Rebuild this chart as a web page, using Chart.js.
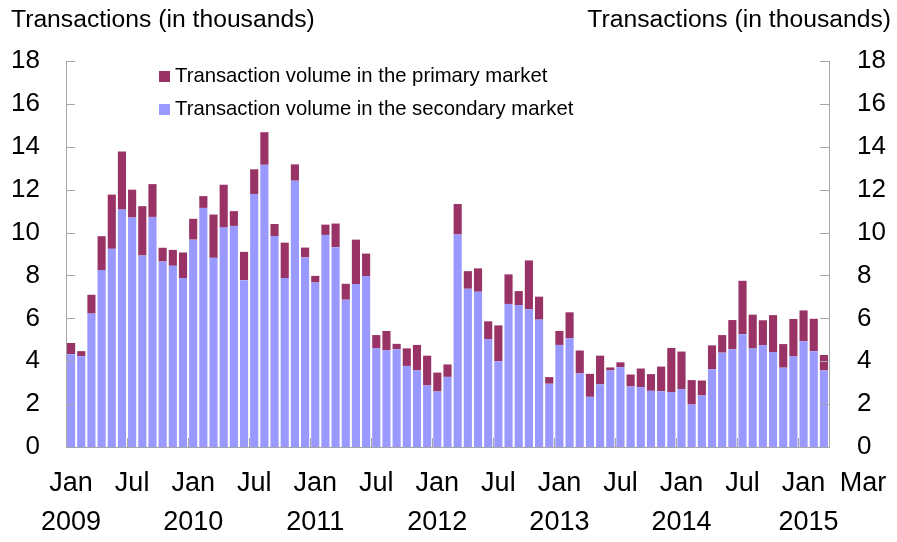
<!DOCTYPE html>
<html>
<head>
<meta charset="utf-8">
<script src="https://cdn.jsdelivr.net/npm/chart.js@4.4.1/dist/chart.umd.min.js"></script>
<style>
  html, body { margin: 0; padding: 0; background: #fff; }
  canvas { display: block; }
</style>
</head>
<body>
<canvas id="chart" width="897" height="542"></canvas>
<script>
// ==================== DATOS ====================
const months = [
  '2009-01','2009-02','2009-03','2009-04','2009-05','2009-06','2009-07','2009-08','2009-09','2009-10','2009-11','2009-12',
  '2010-01','2010-02','2010-03','2010-04','2010-05','2010-06','2010-07','2010-08','2010-09','2010-10','2010-11','2010-12',
  '2011-01','2011-02','2011-03','2011-04','2011-05','2011-06','2011-07','2011-08','2011-09','2011-10','2011-11','2011-12',
  '2012-01','2012-02','2012-03','2012-04','2012-05','2012-06','2012-07','2012-08','2012-09','2012-10','2012-11','2012-12',
  '2013-01','2013-02','2013-03','2013-04','2013-05','2013-06','2013-07','2013-08','2013-09','2013-10','2013-11','2013-12',
  '2014-01','2014-02','2014-03','2014-04','2014-05','2014-06','2014-07','2014-08','2014-09','2014-10','2014-11','2014-12',
  '2015-01','2015-02','2015-03'
];

// mercado secundario (parte baja de la barra)
const secondary = [
  4.33, 4.23, 6.22, 8.25, 9.24, 11.07, 10.70, 8.93, 10.73, 8.65, 8.45, 7.88,
  9.67, 11.15, 8.82, 10.23, 10.31, 7.78, 11.80, 13.16, 9.84, 7.88, 12.42, 8.84,
  7.67, 9.89, 9.32, 6.87, 7.60, 7.97, 4.60, 4.51, 4.56, 3.78, 3.57, 2.87,
  2.59, 3.27, 9.91, 7.38, 7.24, 5.02, 4.00, 6.67, 6.62, 6.42, 5.94, 2.95,
  4.76, 5.07, 3.43, 2.34, 2.92, 3.57, 3.72, 2.82, 2.79, 2.62, 2.60, 2.56,
  2.70, 1.98, 2.40, 3.63, 4.40, 4.56, 5.26, 4.59, 4.74, 4.43, 3.70, 4.22,
  4.93, 4.47, 3.57
];

// mercado primario (parte alta de la barra)
const primary = [
  0.52, 0.24, 0.88, 1.58, 2.53, 2.71, 1.30, 2.30, 1.53, 0.64, 0.74, 1.19,
  0.97, 0.55, 2.02, 2.00, 0.69, 1.32, 1.15, 1.52, 0.56, 1.65, 0.76, 0.46,
  0.31, 0.48, 1.10, 0.74, 2.07, 1.05, 0.62, 0.90, 0.25, 0.82, 1.19, 1.39,
  0.88, 0.58, 1.42, 0.82, 1.09, 0.84, 1.67, 1.38, 0.65, 2.28, 1.07, 0.31,
  0.65, 1.21, 1.07, 1.07, 1.34, 0.14, 0.23, 0.56, 0.87, 0.78, 1.15, 2.06,
  1.75, 1.14, 0.70, 1.11, 0.82, 1.36, 2.49, 1.58, 1.17, 1.72, 1.10, 1.75,
  1.44, 1.51, 0.72
];

const yTicks = [0, 2, 4, 6, 8, 10, 12, 14, 16, 18];
const monthNames = { '01': 'Jan', '07': 'Jul', '03': 'Mar' };
const axisTitle = 'Transactions (in thousands)';
const seriesNames = ['Transaction volume in the primary market', 'Transaction volume in the secondary market'];

const PRIMARY_COLOR = '#993366';
const SECONDARY_COLOR = '#9999ff';
const AXIS_COLOR = '#a6a6a6';
const FONT = '"Liberation Sans", Arial, sans-serif';

// ==================== PLUGIN DE TEXTOS ====================
const decorations = {
  id: 'decorations',
  afterDraw(chart) {
    const { ctx, chartArea } = chart;
    const x = chart.scales.x;
    const y = chart.scales.y;
    ctx.save();
    ctx.fillStyle = '#000';

    // títulos de ejes
    ctx.font = '24.7px ' + FONT;
    ctx.textBaseline = 'middle';
    ctx.textAlign = 'left';
    ctx.fillText(axisTitle, 11, 20);
    ctx.textAlign = 'right';
    ctx.fillText(axisTitle, 891, 20);

    // marcas internas en los ejes Y
    ctx.strokeStyle = AXIS_COLOR;
    ctx.lineWidth = 1;
    yTicks.forEach(v => {
      const py = Math.round(y.getPixelForValue(v)) + 0.5;
      ctx.beginPath();
      ctx.moveTo(chartArea.left, py);
      ctx.lineTo(chartArea.left + 9, py);
      ctx.moveTo(chartArea.right, py);
      ctx.lineTo(chartArea.right - 9, py);
      ctx.stroke();
    });

    // marcas en el eje X cada seis meses
    months.forEach((m, i) => {
      if (i === 0) return;
      const mm = m.slice(5);
      if (mm !== '01' && mm !== '07') return;
      const px = Math.round((x.getPixelForValue(i - 1) + x.getPixelForValue(i)) / 2) + 0.5;
      ctx.beginPath();
      ctx.moveTo(px, chartArea.bottom);
      ctx.lineTo(px, chartArea.bottom - 9);
      ctx.stroke();
    });

    // etiquetas del eje X
    ctx.font = '27px ' + FONT;
    ctx.textAlign = 'center';
    months.forEach((m, i) => {
      const yr = m.slice(0, 4);
      const mm = m.slice(5);
      const last = i === months.length - 1;
      if (!(mm === '01' || mm === '07' || last)) return;
      let px = x.getPixelForValue(i);
      if (last) px += 39;
      ctx.fillText(monthNames[mm], px, 484);
      if (mm === '01') ctx.fillText(yr, px + (yr === '2015' ? 5 : 0), 523);
    });

    // leyenda
    ctx.font = '20.3px ' + FONT;
    ctx.textAlign = 'left';
    const colors = [PRIMARY_COLOR, SECONDARY_COLOR];
    seriesNames.forEach((name, k) => {
      const cy = 76 + k * 33;
      ctx.fillStyle = colors[k];
      ctx.fillRect(159, cy - 5, 11, 11);
      ctx.fillStyle = '#000';
      ctx.fillText(name, 175, cy);
    });

    ctx.restore();
  }
};

// ==================== GRÁFICO ====================
new Chart(document.getElementById('chart'), {
  type: 'bar',
  data: {
    labels: months,
    datasets: [
      {
        label: seriesNames[1],
        data: secondary,
        backgroundColor: SECONDARY_COLOR,
        borderWidth: 0,
        barPercentage: 0.8,
        categoryPercentage: 1
      },
      {
        label: seriesNames[0],
        data: primary,
        backgroundColor: PRIMARY_COLOR,
        borderWidth: 0,
        barPercentage: 0.8,
        categoryPercentage: 1
      }
    ]
  },
  options: {
    responsive: false,
    animation: false,
    devicePixelRatio: 1,
    layout: { padding: { top: 61, left: 0, right: 0, bottom: 0 } },
    plugins: {
      legend: { display: false },
      tooltip: { enabled: false }
    },
    scales: {
      x: {
        stacked: true,
        grid: { display: false, drawTicks: false },
        border: { display: true, color: AXIS_COLOR, width: 1 },
        ticks: { display: false },
        afterFit(scale) { scale.height = 95; }
      },
      y: {
        stacked: true,
        position: 'left',
        min: 0,
        max: 18,
        grid: { display: false, drawTicks: false, tickLength: 0 },
        border: { display: true, color: AXIS_COLOR, width: 1 },
        ticks: {
          stepSize: 2,
          padding: 26,
          color: '#000',
          font: { family: FONT, size: 26 }
        },
        afterFit(scale) { scale.width = 66; }
      },
      y2: {
        position: 'right',
        min: 0,
        max: 18,
        grid: { display: false, drawTicks: false, tickLength: 0 },
        border: { display: true, color: AXIS_COLOR, width: 1 },
        ticks: {
          stepSize: 2,
          padding: 28,
          color: '#000',
          font: { family: FONT, size: 26 }
        },
        afterFit(scale) { scale.width = 68; }
      }
    }
  },
  plugins: [decorations]
});
</script>
</body>
</html>
